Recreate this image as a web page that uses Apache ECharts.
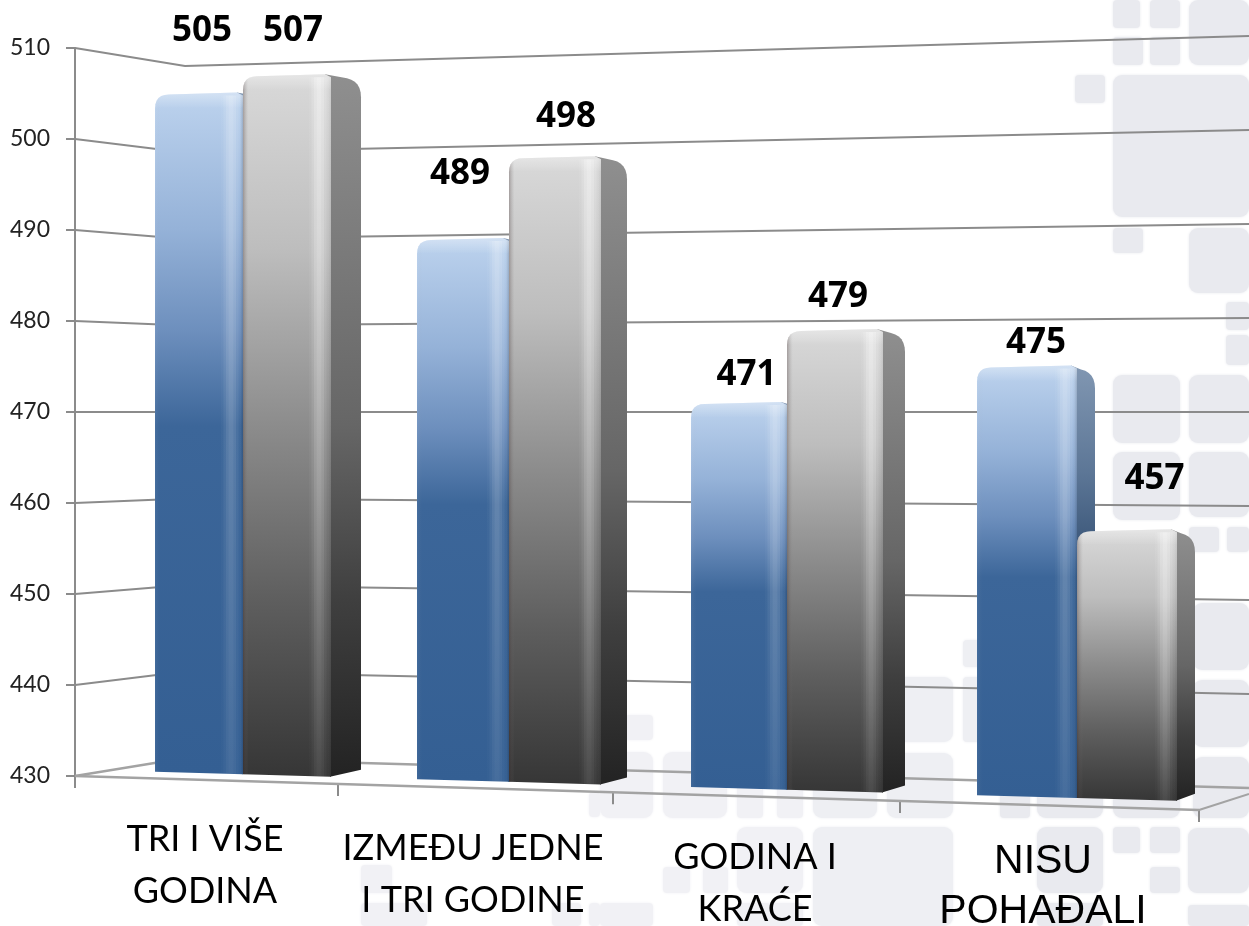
<!DOCTYPE html>
<html><head><meta charset="utf-8">
<style>html,body{margin:0;padding:0;background:#fff}#c{width:1249px;height:926px}</style>
<script src="https://cdn.jsdelivr.net/npm/echarts@6/dist/echarts.min.js"></script>
</head><body><div id="c"></div>
<script>
// ---- data ----
const categories = ['TRI I VIŠE\nGODINA', 'IZMEĐU JEDNE\nI TRI GODINE', 'GODINA I\nKRAĆE', 'NISU\nPOHAĐALI'];
const seriesBlue = [505, 489, 471, 475];
const seriesGray = [507, 498, 479, 457];
const yTicks = [430, 440, 450, 460, 470, 480, 490, 500, 510];
// ---- layout (hand-placed label nudges, relative to the bar top) ----
const blueLabelNudge = [[3, -62], [-3, -65], [7.5, -28], [9, -23]];
const grayLabelNudge = [[6, -44], [11, -40], [3, -33], [27.5, -51]];
const catLabelDx = [-38, -36, -32, -34];
const catLabelDy = [63, 72, 81, 86];
const glossWeights = [.12, .4, .75, 1, 1, .75, .4, .12];
// decorative page backdrop tiles [x, y, w, h]
const backdropTiles = [
 [1113,0,27,28],[1150,0,30,28],[1189,0,60,65],[1113,37,30,28],[1150,37,30,28],[1075,75,30,28],[1113,75,136,142],
 [1113,228,30,25],[1189,228,60,65],[1226,302,23,28],[1226,335,23,30],[1113,375,67,68],[1189,375,60,68],[1113,452,67,68],[1189,452,60,65],
 [1189,527,30,25],[1227,527,22,25],[1193,603,56,67],[1193,680,56,67],[1193,757,56,61],
 [887,677,66,65],[887,753,66,65],[963,640,27,27],[963,677,30,65],
 [813,757,64,61],[663,752,64,66],[737,760,26,58],[777,760,26,58],[600,752,53,66],[625,715,28,25],
 [1000,757,30,61],[1037,757,66,61],[1113,757,67,61],
 [813,827,140,99],[737,827,66,66],[1037,827,66,66],[1113,827,27,26],[1150,827,30,26],[1150,867,30,26],[1188,828,61,65],
 [1188,905,61,21],[663,867,27,26],[703,867,25,26],[737,903,66,23],[1037,903,66,23],[600,903,53,23],
 [361,865,31,28],[361,903,66,23],[552,903,29,23],[589,903,11,23],[589,792,11,25]
];

const GRID_L = 75, GRID_W = 1125, GRID_T = 48, GRID_B = 776;
const LINE = '#8b8b8b', FLOOR = '#a3a3a3';
const frontFloorY = x => 776 + (x - 75) * 0.0302;
const barBaseY = x => 771.7 + (x - 155) * 0.0285;
const tickX = t => 75 + 257 * t + 6 * t * t;
const lg = (x0, y0, x1, y1, stops) => new echarts.graphic.LinearGradient(x0, y0, x1, y1,
  stops.map(s => ({ offset: s[0], color: s[1] })));

function qCorner(p0, c, p1, out) {
  for (let i = 0; i <= 6; i++) {
    const t = i / 6, u = 1 - t;
    out.push([u*u*p0[0] + 2*u*t*c[0] + t*t*p1[0], u*u*p0[1] + 2*u*t*c[1] + t*t*p1[1]]);
  }
}
const paints = {
  blue: {
    front: [[0,'#bdd3ee'],[.2,'#95b2d8'],[.35,'#6d8fbd'],[.49,'#3c6699'],[1,'#345f93']],
    side:  [[0,'#8197b2'],[.25,'#5c7696'],[.47,'#334f72'],[1,'#2a4a72']],
    gloss: [.3, .09], edgeL: 'rgba(255,255,255,0.06)', edgeR: 'rgba(0,0,0,0.16)'
  },
  gray: {
    front: [[0,'#d9d9d9'],[.25,'#bdbdbd'],[.5,'#8c8c8c'],[.75,'#5e5e5e'],[1,'#363636']],
    side:  [[0,'#8f8f8f'],[.5,'#666666'],[.75,'#3f3f3f'],[1,'#232323']],
    gloss: [.48, .1], edgeL: 'rgba(60,40,40,0.32)', edgeR: 'rgba(0,0,0,0.06)'
  }
};
function barRender(kind, nudges) {
  return function (params, api) {
    const i = api.value(0), v = api.value(1);
    const pt = api.coord([i, v]);
    const k = (pt[0] - GRID_L) / (GRID_W / categories.length) - 0.5;
    const center = 243 + 260 * k + 6 * k * k;
    const w = 88 + 4 * k, s = 30 - 4 * k;
    const x0 = kind === 'blue' ? center - w : center;
    const x1 = x0 + w;
    const top = pt[1];
    const bL = barBaseY(x0), bR = barBaseY(x1);
    const r = 14;
    const pFront = [[x0, bL]];
    qCorner([x0, top + 1 + r], [x0, top + 1], [x0 + r, top + 1], pFront);
    pFront.push([x1 - 6, top - 1], [x1, top + 2], [x1, bR]);
    const pSide = [[x1 - 1, bR], [x1 - 6, top + 2], [x1 - 6, top - 1], [x1 + s - 14, top + 3]];
    qCorner([x1 + s - 14, top + 3], [x1 + s, top + 6], [x1 + s, top + 22], pSide);
    pSide.push([x1 + s, bR - 7]);
    const P = paints[kind];
    const kids = [
      { type: 'polygon', shape: { points: pSide }, style: { fill: lg(0,0,0,1,P.side) } },
      { type: 'polygon', shape: { points: pFront }, style: { fill: lg(0,0,0,1,P.front) } },
      { type: 'polygon', shape: { points: pFront }, style: { fill: lg(0,0,1,0,[
          [0,P.edgeL],[.06,'rgba(128,128,128,0)'],[.96,'rgba(128,128,128,0)'],[1,P.edgeR]]) } }
    ];
    const xc = x1 - 12, sw = 2.5;
    glossWeights.forEach((g, j) => {
      const sx = xc + (j - glossWeights.length / 2) * sw;
      kids.push({ type: 'rect', shape: { x: sx, y: top + 2, width: sw, height: barBaseY(sx) - top - 2 },
        style: { fill: lg(0,0,0,1,[[0,`rgba(255,255,255,${P.gloss[0]*g})`],[1,`rgba(255,255,255,${P.gloss[1]*g})`]]) } });
    });
    kids.push({ type: 'polygon', shape: { points: pFront.slice(1, 8).concat([[x1 - 6, top - 1], [x1, top + 2], [x1, top + 14], [x0, top + 14]]) },
        style: { fill: lg(0,0,0,1,[[0,'rgba(255,255,255,0.35)'],[1,'rgba(255,255,255,0)']]) } });
    kids.push({ type: 'text', z2: 50, style: { text: String(v), x: center + (kind === 'blue' ? -w/2 : w/2) + nudges[i][0], y: top + nudges[i][1],
          align: 'center', verticalAlign: 'middle', fill: '#000', fontFamily: 'Open Sans', fontWeight: 'bold', fontSize: 35 } });
    return { type: 'group', children: kids };
  };
}

const option = {
  animation: false,
  backgroundColor: '#fff',
  graphic: backdropTiles.map(t => {
    const c = t[0] < 800 ? '#f1f1f5' : t[0] < 1000 ? '#eeeff3' : '#e9eaef';
    return {
      type: 'rect', z: -10, silent: true,
      shape: { x: t[0], y: t[1], width: t[2], height: t[3], r: Math.min(t[2], t[3]) > 50 ? 9 : 4 },
      style: { fill: c, shadowBlur: 3, shadowColor: c }
    };
  }),
  grid: { left: GRID_L, top: GRID_T, width: GRID_W, height: GRID_B - GRID_T },
  xAxis: { type: 'category', data: categories, show: false },
  yAxis: {
    type: 'value', min: 430, max: 510, interval: 10,
    axisLine: { show: true, lineStyle: { color: LINE, width: 2 } },
    axisTick: { show: true, length: 9, lineStyle: { color: LINE, width: 2 } },
    axisLabel: { margin: 25, color: '#222', fontFamily: 'Lato', fontSize: 23, padding: [4, 0, 0, 0] },
    splitLine: { show: false }
  },
  series: [
    { type: 'custom', name: 'walls', z: 1, data: yTicks.map(v => [0, v]), encode: { x: 0, y: 1 },
      renderItem(p, api) {
        const v = api.value(1), y = api.coord([0, v])[1];
        const f = (y - GRID_T) / (GRID_B - GRID_T);
        return { type: 'polyline', shape: { points: [[GRID_L, y], [185, 66 + 692 * f], [1249, 36 + 752 * f]] },
          style: { stroke: v === 430 ? FLOOR : LINE, lineWidth: v === 430 ? 2.4 : 1.8, fill: null } };
      } },
    { type: 'custom', name: 'floor', z: 1, data: [0, 1, 2, 3, 4].map(t => [0, 430, t]), encode: { x: 0, y: 1 },
      renderItem(p, api) {
        const t = api.value(2), x = tickX(t), y = frontFloorY(x);
        const kids = [{ type: 'line', shape: { x1: x, y1: y, x2: x, y2: y + 12 }, style: { stroke: LINE, lineWidth: 2 } }];
        if (t === 4) {
          kids.push({ type: 'line', shape: { x1: 75, y1: 776, x2: x, y2: y }, style: { stroke: FLOOR, lineWidth: 2.4 } });
          kids.push({ type: 'line', shape: { x1: x, y1: y, x2: 1249, y2: 794 }, style: { stroke: FLOOR, lineWidth: 2 } });
        }
        return { type: 'group', children: kids };
      } },
    { type: 'custom', name: 'A', z: 3, data: seriesBlue.map((v, i) => [i, v]), encode: { x: 0, y: 1 },
      renderItem: barRender('blue', blueLabelNudge) },
    { type: 'custom', name: 'B', z: 4, data: seriesGray.map((v, i) => [i, v]), encode: { x: 0, y: 1 },
      renderItem: barRender('gray', grayLabelNudge) },
    { type: 'custom', name: 'categories', z: 5, data: categories.map((c, i) => [i, 430]), encode: { x: 0, y: 1 },
      renderItem(p, api) {
        const i = api.value(0), pt = api.coord([i, 430]);
        const k = (pt[0] - GRID_L) / (GRID_W / categories.length) - 0.5;
        const cx = 243 + 260 * k + 6 * k * k + catLabelDx[i];
        const lines = categories[i].split('\n');
        const last = i === categories.length - 1;
        return { type: 'group', children: lines.map((t, n) => ({
          type: 'text',
          style: { text: t, x: cx, y: pt[1] + catLabelDy[i] + n * (last ? 50 : 52), align: 'center', verticalAlign: 'middle',
            fill: '#000', fontFamily: last ? 'Liberation Sans' : 'Lato', fontSize: last ? 41 : 36 }
        })) };
      } }
  ]
};
echarts.init(document.getElementById('c'), null, { renderer: 'canvas' }).setOption(option);
</script></body></html>
